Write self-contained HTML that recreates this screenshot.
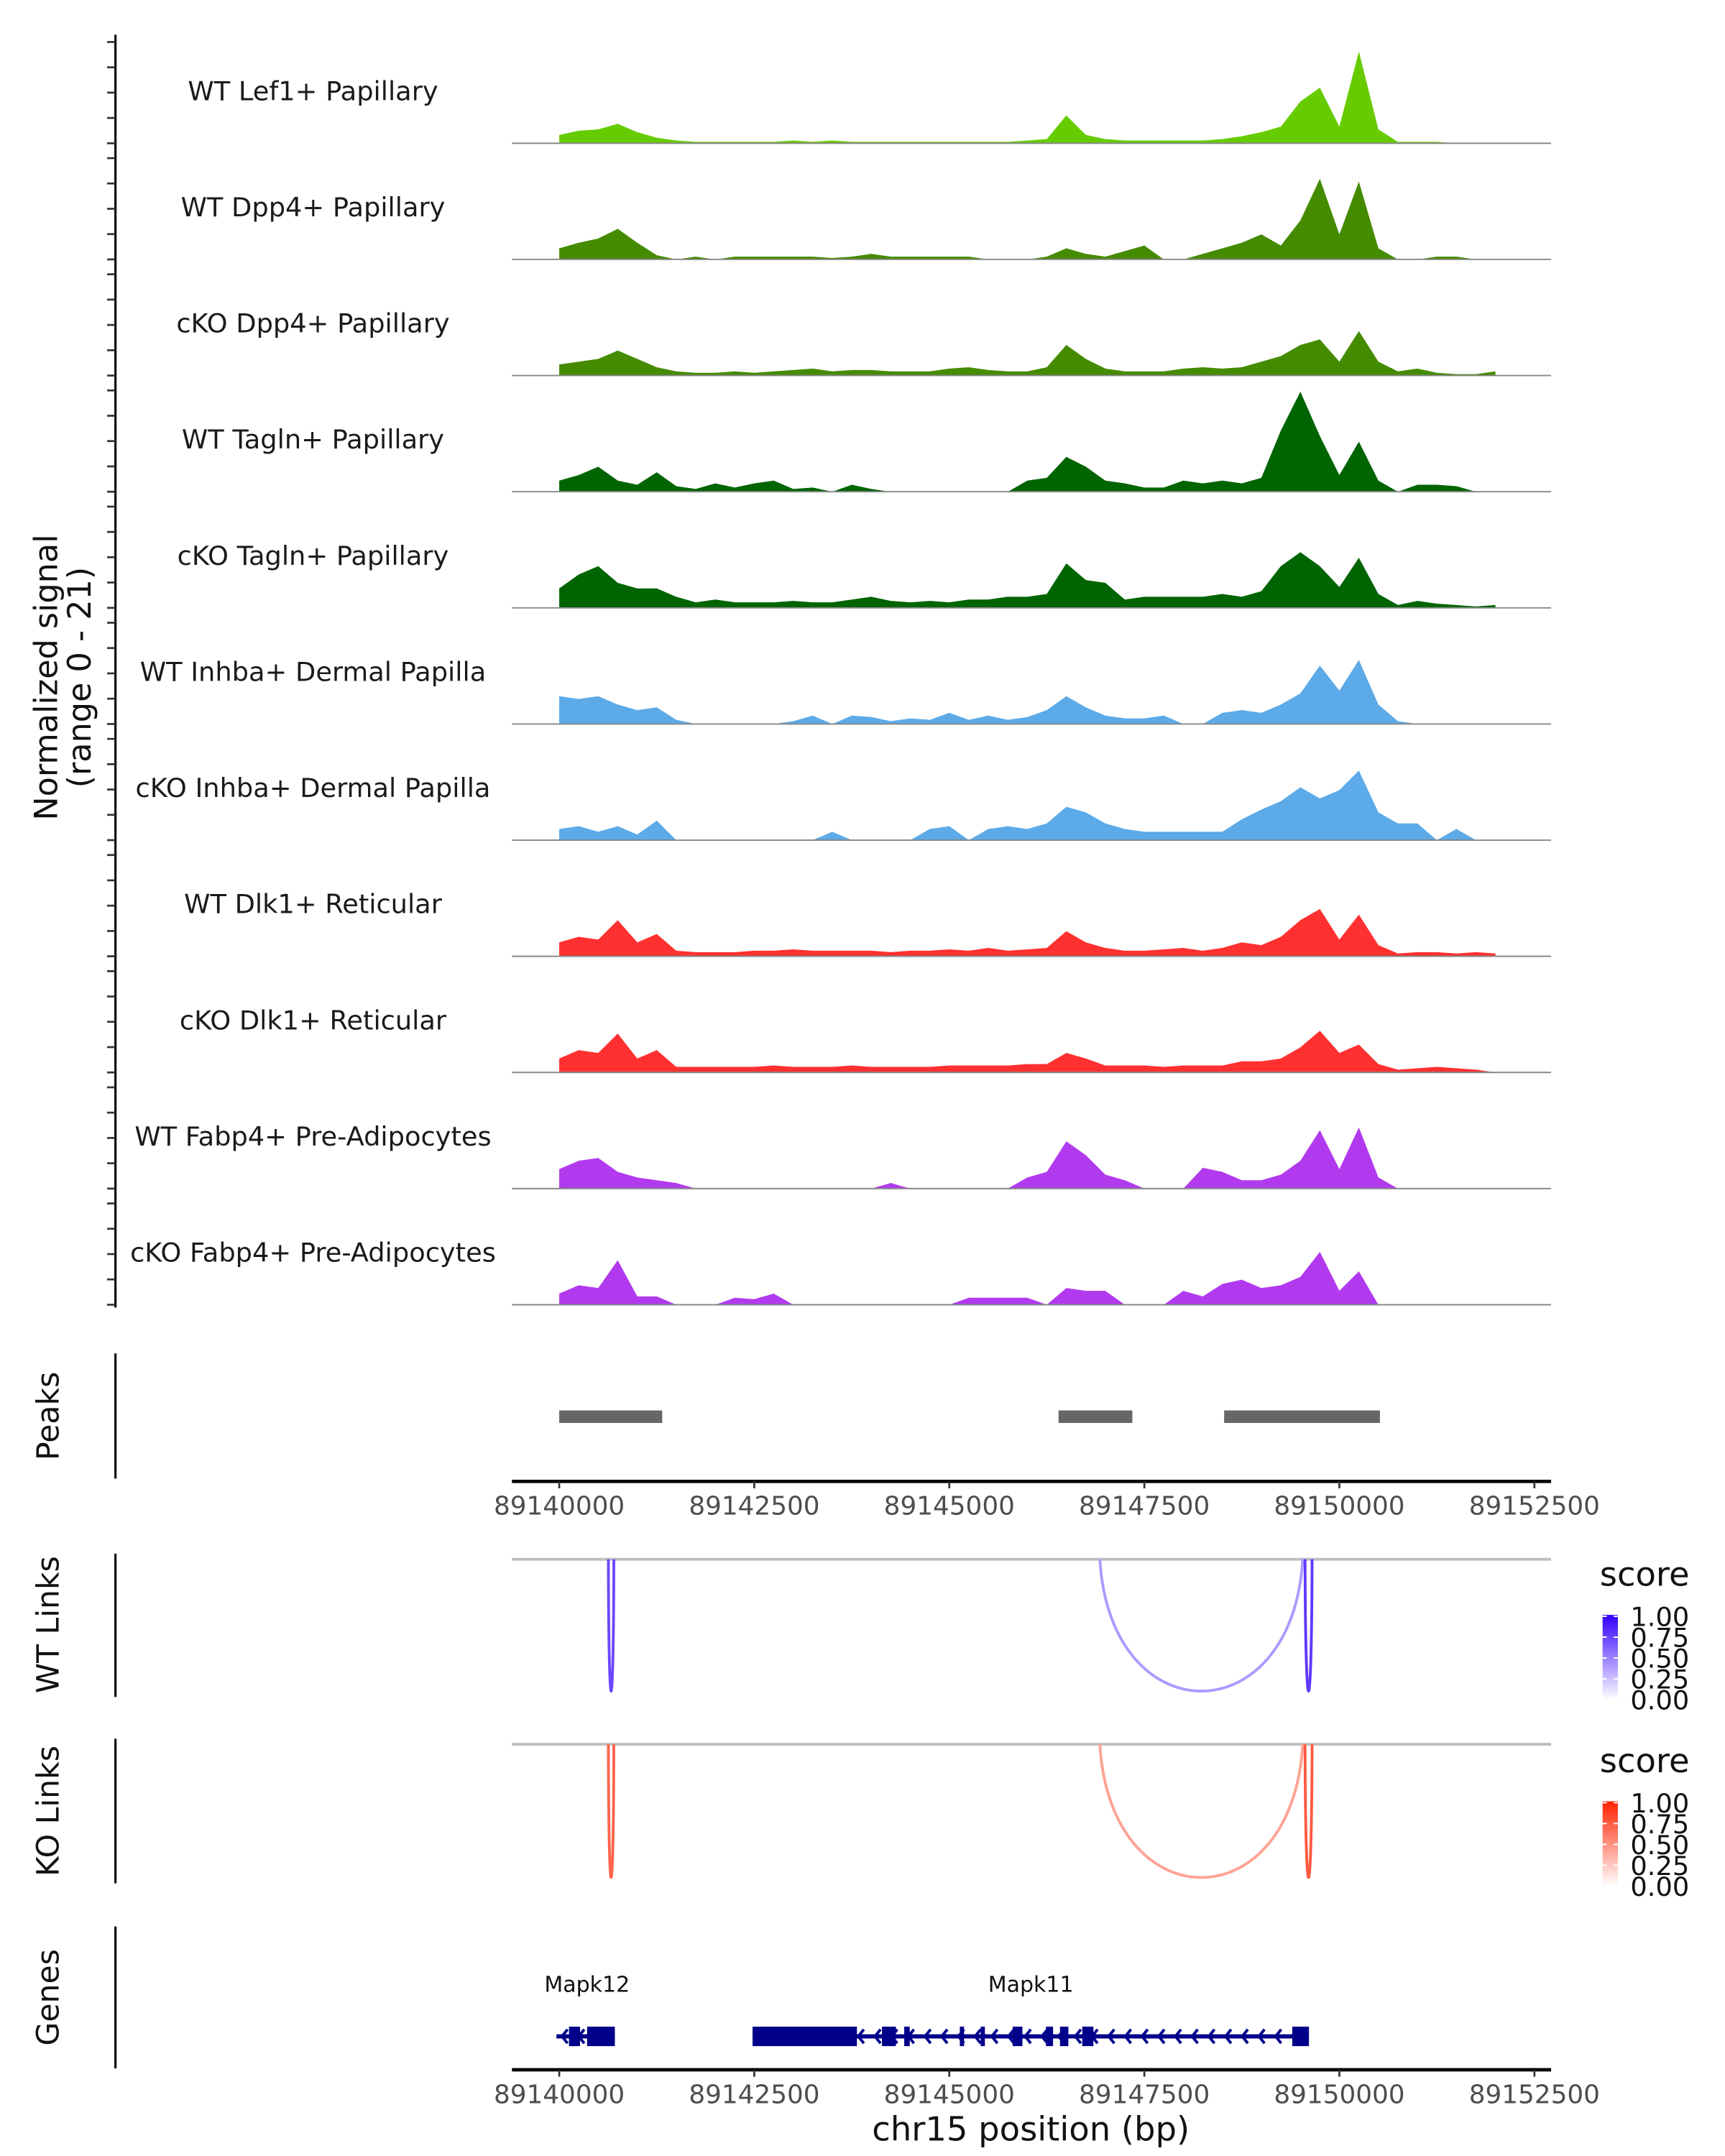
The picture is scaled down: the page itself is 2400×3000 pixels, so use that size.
<!DOCTYPE html>
<html><head><meta charset="utf-8"><style>
html,body{margin:0;padding:0;background:#fff;}
svg{display:block;font-family:"DejaVu Sans","Liberation Sans",sans-serif;}
</style></head><body>
<svg id="chart" width="2400" height="3000" viewBox="0 0 1240 1550" preserveAspectRatio="none" xmlns="http://www.w3.org/2000/svg">
<rect width="1240" height="1550" fill="#fff"/>
<text transform="translate(41,487) rotate(-90)" text-anchor="middle" font-size="23" fill="#111">Normalized signal</text>
<text transform="translate(65,487) rotate(-90)" text-anchor="middle" font-size="23" fill="#111">(range 0 - 21)</text>
<line x1="83" y1="25" x2="83" y2="940" stroke="#000" stroke-width="1.6"/>
<g id="tracks"></g>
<g id="lower"></g>
</svg>
<script>
const tracks = ["WT Lef1+ Papillary","WT Dpp4+ Papillary","cKO Dpp4+ Papillary","WT Tagln+ Papillary","cKO Tagln+ Papillary","WT Inhba+ Dermal Papilla","cKO Inhba+ Dermal Papilla","WT Dlk1+ Reticular","cKO Dlk1+ Reticular","WT Fabp4+ Pre-Adipocytes","cKO Fabp4+ Pre-Adipocytes"];
const trackColors = ["#66cc00","#458b00","#458b00","#006400","#006400","#5caae8","#5caae8","#ff3030","#ff3030","#b23aee","#b23aee"];
const binStart = 89140000;
const binSize = 250;
const sigLef1WT = [1.5,2.25,2.5,3.5,2,1,0.5,0.25,0.25,0.25,0.25,0.25,0.5,0.25,0.5,0.25,0.25,0.25,0.25,0.25,0.25,0.25,0.25,0.25,0.5,0.75,5,1.5,0.75,0.5,0.5,0.5,0.5,0.5,0.75,1.25,2,3,7.5,10,3,16.5,2.5,0.25,0.25,0.25,0,0,0];
const sigDpp4WT = [2,3,3.75,5.5,3,0.75,0,0.5,0,0.5,0.5,0.5,0.5,0.5,0.25,0.5,1,0.5,0.5,0.5,0.5,0.5,0,0,0,0.5,2,1,0.5,1.5,2.5,0,0,1,2,3,4.5,2.5,7,14.5,4.5,14,2,0,0,0.5,0.5,0,0];
const sigDpp4KO = [2,2.5,3,4.5,3,1.5,0.75,0.5,0.5,0.75,0.5,0.75,1,1.25,0.75,1,1,0.75,0.75,0.75,1.25,1.5,1,0.75,0.75,1.5,5.5,3,1.25,0.75,0.75,0.75,1.25,1.5,1.25,1.5,2.5,3.5,5.5,6.5,2.5,8,2.5,0.75,1.25,0.5,0.25,0.25,0.75];
const sigTaglnWT = [2,3,4.5,2,1.25,3.5,1,0.5,1.5,0.75,1.5,2,0.5,0.75,0,1.25,0.5,0,0,0,0,0,0,0,2,2.5,6.25,4.5,2,1.5,0.75,0.75,2,1.5,2,1.5,2.5,11,18,10,3,9,2,0,1.25,1.25,1,0,0];
const sigTaglnKO = [3.5,6,7.5,4.5,3.5,3.5,2,1,1.5,1,1,1,1.25,1,1,1.5,2,1.25,1,1.25,1,1.5,1.5,2,2,2.5,8,5,4.5,1.5,2,2,2,2,2.5,2,3,7.5,10,7.5,3.75,9,2.5,0.5,1.25,0.75,0.5,0.25,0.5];
const sigInhbaWT = [5,4.5,5,3.5,2.5,3,0.75,0,0,0,0,0,0.5,1.5,0,1.5,1.25,0.5,1,0.75,2,0.75,1.5,0.75,1.25,2.5,5,3,1.5,1,1,1.5,0,0,2,2.5,2,3.5,5.5,10.5,6,11.5,3.5,0.5,0,0,0,0,0];
const sigInhbaKO = [2,2.5,1.5,2.5,1,3.5,0,0,0,0,0,0,0,0,1.5,0,0,0,0,2,2.5,0,2,2.5,2,3,6,5,3,2,1.5,1.5,1.5,1.5,1.5,3.75,5.5,7,9.5,7.5,9,12.5,5,3,3,0,2,0,0];
const sigDlk1WT = [2.5,3.5,3,6.5,2.5,4,1,0.75,0.75,0.75,1,1,1.25,1,1,1,1,0.75,1,1,1.25,1,1.5,1,1.25,1.5,4.5,2.5,1.5,1,1,1.25,1.5,1,1.5,2.5,2,3.5,6.5,8.5,3,7.5,2,0.5,0.75,0.75,0.5,0.75,0.5];
const sigDlk1KO = [2.5,4,3.5,7,2.5,4,1,1,1,1,1,1.25,1,1,1,1.25,1,1,1,1,1.25,1.25,1.25,1.25,1.5,1.5,3.5,2.5,1.25,1.25,1.25,1,1.25,1.25,1.25,2,2,2.5,4.5,7.5,3.5,5,1.5,0.5,0.75,1,0.75,0.5,0];
const sigFabp4WT = [3.5,5,5.5,3,2,1.5,1,0,0,0,0,0,0,0,0,0,0,1,0,0,0,0,0,0,2,3,8.5,6,2.5,1.5,0,0,0,3.75,3,1.5,1.5,2.5,5,10.5,3.5,11,2,0,0,0,0,0,0];
const sigFabp4KO = [2,3.5,3,8,1.5,1.5,0,0,0,1.25,1,2,0,0,0,0,0,0,0,0,0,1.25,1.25,1.25,1.25,0,3,2.5,2.5,0,0,0,2.5,1.5,3.75,4.5,3,3.5,5,9.5,2.5,6,0,0,0,0,0,0,0];
const signals = [sigLef1WT,sigDpp4WT,sigDpp4KO,sigTaglnWT,sigTaglnKO,sigInhbaWT,sigInhbaKO,sigDlk1WT,sigDlk1KO,sigFabp4WT,sigFabp4KO];
const peakStarts = [89140000,89146400,89148523];
const peakEnds = [89141320,89147346,89150520];
const xTicks = [89140000,89142500,89145000,89147500,89150000,89152500];
const linkStarts = [89140630,89146930,89149560];
const linkEnds = [89140700,89149530,89149650];
const wtLinkScores = [0.72,0.4,0.78];
const koLinkScores = [0.7,0.42,0.75];
const legendTicks = ["1.00","0.75","0.50","0.25","0.00"];
const geneNames = ["Mapk12","Mapk11"];
const geneStarts = [89139964,89142478];
const geneEnds = [89140713,89149610];
const mapk12ExonStarts = [89140125,89140357];
const mapk12ExonEnds = [89140267,89140713];
const mapk11ExonStarts = [89142478,89144137,89144422,89145135,89145402,89145812,89146240,89146419,89146704,89149396];
const mapk11ExonEnds = [89143816,89144315,89144493,89145189,89145456,89145937,89146330,89146526,89146847,89149610];

const NS="http://www.w3.org/2000/svg";
const X0=402, PXBP=701/12500, TOP=25, TRACK_H=83.5, UNIT=4, TICK_UNIT=3.64;
const xs = bp => X0 + (bp-89140000)*PXBP;
function mk(tag, attrs, parent){const e=document.createElementNS(NS,tag);for(const k in attrs)e.setAttribute(k,attrs[k]);parent.appendChild(e);return e;}
const tg=document.getElementById('tracks');
const lg=document.getElementById('lower');

tracks.forEach((name,t)=>{
  const base = 103 + t*TRACK_H;
  for(let k=0;k<5;k++){
    const tk=mk('line',{x1:77,x2:83,y1:base-k*5*TICK_UNIT,y2:base-k*5*TICK_UNIT,stroke:'#333','stroke-width':1.4},tg);
    
    
  }
  const lab=mk('text',{x:225,y:base-31,'text-anchor':'middle','font-size':19,fill:'#1a1a1a'},tg);
  lab.textContent=name;
  
  
  const vals=signals[t];
  let d=`M${xs(binStart)},${base}`;
  vals.forEach((v,i)=>{d+=` L${xs(binStart+i*binSize).toFixed(2)},${(base-v*UNIT).toFixed(2)}`;});
  d+=` L${xs(binStart+(vals.length-1)*binSize)},${base} Z`;
  const p=mk('path',{d:d,fill:trackColors[t]},tg);
  
  
  const bl=mk('line',{x1:368,x2:1115,y1:base,y2:base,stroke:'#888','stroke-width':1},tg);
  
  
});

function vtitle(txt,cx,cy,name){
  const e=mk('text',{transform:`translate(${cx},${cy}) rotate(-90)`,'text-anchor':'middle','font-size':22,fill:'#111'},lg);
  e.textContent=txt;
  
  
}
function vline(y1,y2,name){
  const e=mk('line',{x1:83,x2:83,y1:y1,y2:y2,stroke:'#000','stroke-width':1.6},lg);
  
  
}
function xaxis(y,name){
  const g=mk('g',{},lg);
  
  
  mk('line',{x1:368,x2:1115,y1:y,y2:y,stroke:'#000','stroke-width':2.4},g);
  xTicks.forEach(v=>{
    const tk=mk('line',{x1:xs(v),x2:xs(v),y1:y,y2:y+5,stroke:'#333','stroke-width':1.4},g);
    
    
    const tl=mk('text',{x:xs(v),y:y+24,'text-anchor':'middle','font-size':18.5,fill:'#4d4d4d'},g);
    tl.textContent=v;
    
    
  });
}
vtitle('Peaks',42,1018,'peaks-title');
vline(973,1063,'peaks-axis-line');
peakStarts.forEach((s,i)=>{
  const r=mk('rect',{x:xs(s),y:1014,width:xs(peakEnds[i])-xs(s),height:9,fill:'#666'},lg);
  
  
});
xaxis(1065,'peaks-x-axis');

function mix(hi,s){return `rgb(${[0,1,2].map(k=>Math.round(255+(hi[k]-255)*s)).join(',')})`;}
function links(scores,top,bottom,hi,title,cy,legY,prefix){
  vtitle(title,42,cy,prefix+'-title');
  vline(top-4,bottom+4,prefix+'-axis-line');
  const gl=mk('line',{x1:368,x2:1115,y1:top,y2:top,stroke:'#bebebe','stroke-width':2},lg);
  
  
  linkStarts.forEach((s,i)=>{
    const a=xs(s),b=xs(linkEnds[i]);
    const depth=bottom-top;
    const d=`M${a},${top} C${a+(b-a)*0.05},${top+depth*1.33} ${b-(b-a)*0.05},${top+depth*1.33} ${b},${top}`;
    const p=mk('path',{d:d,fill:'none',stroke:mix(hi,scores[i]),'stroke-width':2},lg);
    
    
  });
  const lt=mk('text',{x:1150,y:legY,'font-size':24,fill:'#111'},lg);
  lt.textContent='score';
  
  
  const gid=prefix+'-grad';
  const defs=mk('defs',{},lg);
  const gr=mk('linearGradient',{id:gid,x1:0,y1:1,x2:0,y2:0},defs);
  mk('stop',{offset:0,'stop-color':'#fff'},gr);
  mk('stop',{offset:1,'stop-color':mix(hi,1)},gr);
  const bar=mk('rect',{x:1152,y:legY+21,width:11,height:61,fill:`url(#${gid})`},lg);
  
  
  legendTicks.forEach((t,i)=>{
    const ty=legY+22+i*15;
    const tx=mk('text',{x:1172,y:ty+7,'font-size':19,fill:'#111'},lg);
    tx.textContent=t;
    
    
    mk('line',{x1:1152,x2:1155,y1:ty,y2:ty,stroke:'#fff'},lg);
    mk('line',{x1:1160,x2:1163,y1:ty,y2:ty,stroke:'#fff'},lg);
  });
}
links(wtLinkScores,1121,1216,[51,0,255],'WT Links',1168,1140,'wt-links');
links(koLinkScores,1254,1350,[255,34,0],'KO Links',1302,1274,'ko-links');

vtitle('Genes',42,1436,'genes-title');
vline(1385,1487,'genes-axis-line');
const GY=1464;
const exonS=[mapk12ExonStarts,mapk11ExonStarts], exonE=[mapk12ExonEnds,mapk11ExonEnds];
geneNames.forEach((g,i)=>{
  const a=xs(geneStarts[i]),b=xs(geneEnds[i]);
  const gg=mk('g',{},lg);
  
  
  const lab=mk('text',{x:(i==0?422:741),y:1432,'text-anchor':'middle','font-size':15.5,fill:'#111'},gg);
  lab.textContent=g;
  mk('line',{x1:a,x2:b,y1:GY,y2:GY,stroke:'#00008b','stroke-width':3},gg);
  for(let x=a+4;x<b-6;x+=12){
    mk('path',{d:`M${x+4},${GY-5} L${x},${GY} L${x+4},${GY+5}`,fill:'none',stroke:'#00008b','stroke-width':2},gg);
  }
  exonS[i].forEach((s,j)=>{
    const r=mk('rect',{x:xs(s),y:GY-7,width:Math.max(2,xs(exonE[i][j])-xs(s)),height:14,fill:'#00008b'},gg);
    
    
  });
});
xaxis(1488,'genes-x-axis');
const xt=mk('text',{x:741,y:1539,'text-anchor':'middle','font-size':24,fill:'#111'},lg);
xt.textContent='chr15 position (bp)';


</script>
</body></html>
